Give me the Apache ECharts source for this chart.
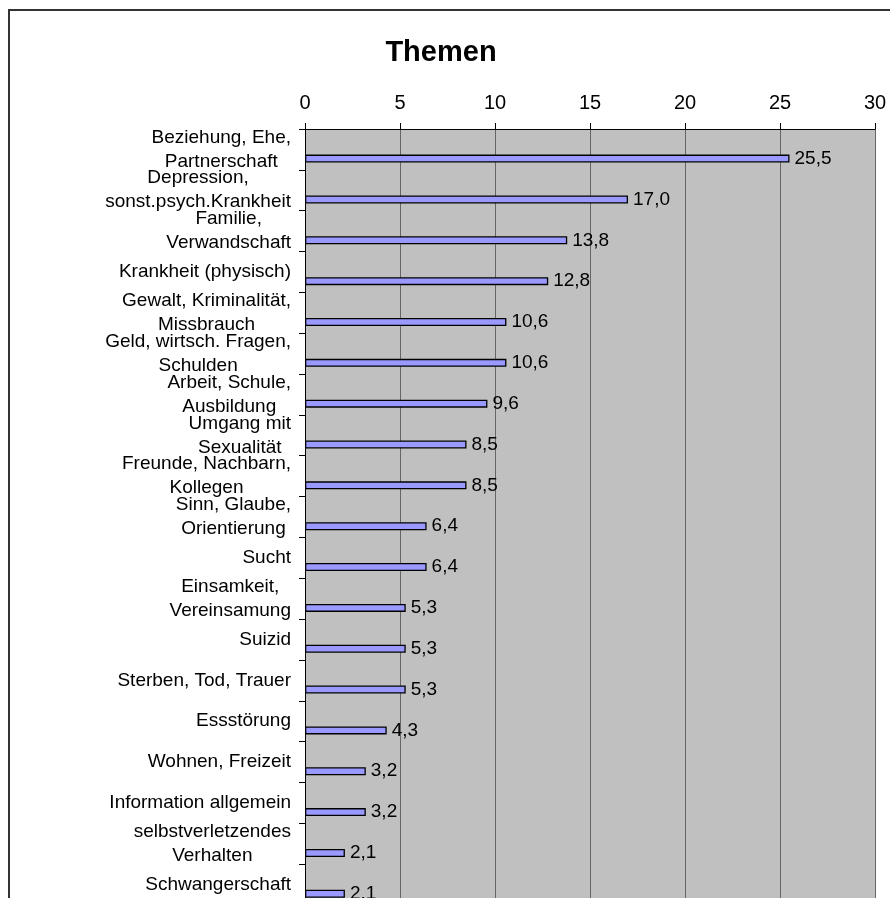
<!DOCTYPE html>
<html>
<head>
<meta charset="utf-8">
<script src="https://cdn.jsdelivr.net/npm/echarts@6/dist/echarts.min.js"></script>
<style>
  html, body { margin: 0; padding: 0; background: #fff; }
  #main { width: 890px; height: 898px; }
</style>
</head>
<body>
<div id="main"></div>
<script>
const categories = [
  'Beziehung, Ehe,\nPartnerschaft',
  'Depression,\nsonst.psych.Krankheit',
  'Familie,\nVerwandschaft',
  'Krankheit (physisch)',
  'Gewalt, Kriminalität,\nMissbrauch',
  'Geld, wirtsch. Fragen,\nSchulden',
  'Arbeit, Schule,\nAusbildung',
  'Umgang mit\nSexualität',
  'Freunde, Nachbarn,\nKollegen',
  'Sinn, Glaube,\nOrientierung',
  'Sucht',
  'Einsamkeit,\nVereinsamung',
  'Suizid',
  'Sterben, Tod, Trauer',
  'Essstörung',
  'Wohnen, Freizeit',
  'Information allgemein',
  'selbstverletzendes\nVerhalten',
  'Schwangerschaft'
]
const values = [25.5, 17.0, 13.8, 12.8, 10.6, 10.6, 9.6, 8.5, 8.5, 6.4, 6.4, 5.3, 5.3, 5.3, 4.3, 3.2, 3.2, 2.1, 2.1]
// leere Reihe, damit der Balken wie in Excel unten im Band sitzt
const emptyValues = categories.map(() => null)

const FONT = '"Liberation Sans", Arial, sans-serif'

const chart = echarts.init(document.getElementById('main'))

const option = {
  animation: false,
  backgroundColor: '#fff',
  title: {
    text: 'Themen',
    left: 436,
    top: 33,
    textAlign: 'center',
    textStyle: {
      fontFamily: FONT,
      fontSize: 29,
      fontWeight: 'bold',
      color: '#000'
    }
  },
  graphic: [{
    type: 'rect',
    shape: { x: 9, y: 10, width: 1000, height: 1000 },
    style: { fill: 'none', stroke: '#333', lineWidth: 2 },
    silent: true
  }],
  grid: {
    left: 305,
    top: 129,
    width: 570,
    height: 776,
    show: true,
    backgroundColor: '#C0C0C0',
    borderWidth: 0,
    outerBoundsMode: 'none'
  },
  xAxis: {
    type: 'value',
    position: 'top',
    min: 0,
    max: 30,
    interval: 5,
    axisLine: { show: true, lineStyle: { color: '#000', width: 1 } },
    axisTick: { show: true, length: 6, lineStyle: { color: '#000' } },
    axisLabel: {
      margin: 16,
      fontFamily: FONT,
      fontSize: 20,
      color: '#000'
    },
    splitLine: { show: true, lineStyle: { color: '#666', width: 1 } }
  },
  yAxis: {
    type: 'category',
    inverse: true,
    data: categories,
    axisLine: { show: true, lineStyle: { color: '#000', width: 1 } },
    axisTick: { show: true, length: 6, interval: 0, lineStyle: { color: '#000' } },
    axisLabel: {
      interval: 0,
      margin: 14,
      align: 'right',
      formatter: v => v.split('\n').map(l => '{c|' + l + '}').join('\n'),
      rich: {
        c: {
          align: 'center',
          fontFamily: FONT,
          fontSize: 19,
          lineHeight: 24,
          color: '#000'
        }
      }
    },
    splitLine: { show: false }
  },
  series: [
    {
      name: 'leer',
      type: 'bar',
      barWidth: 8,
      barGap: '130%',
      data: emptyValues,
      silent: true
    },
    {
      name: 'Themen',
      type: 'bar',
      barWidth: 8,
      data: values,
      itemStyle: { color: '#9999FF', borderColor: '#000', borderWidth: 1.3 },
      label: {
        show: true,
        position: 'right',
        distance: 5,
        fontFamily: FONT,
        fontSize: 19,
        color: '#000',
        formatter: p => p.value.toFixed(1).replace('.', ',')
      }
    }
  ]
}

chart.setOption(option)
</script>
</body>
</html>
